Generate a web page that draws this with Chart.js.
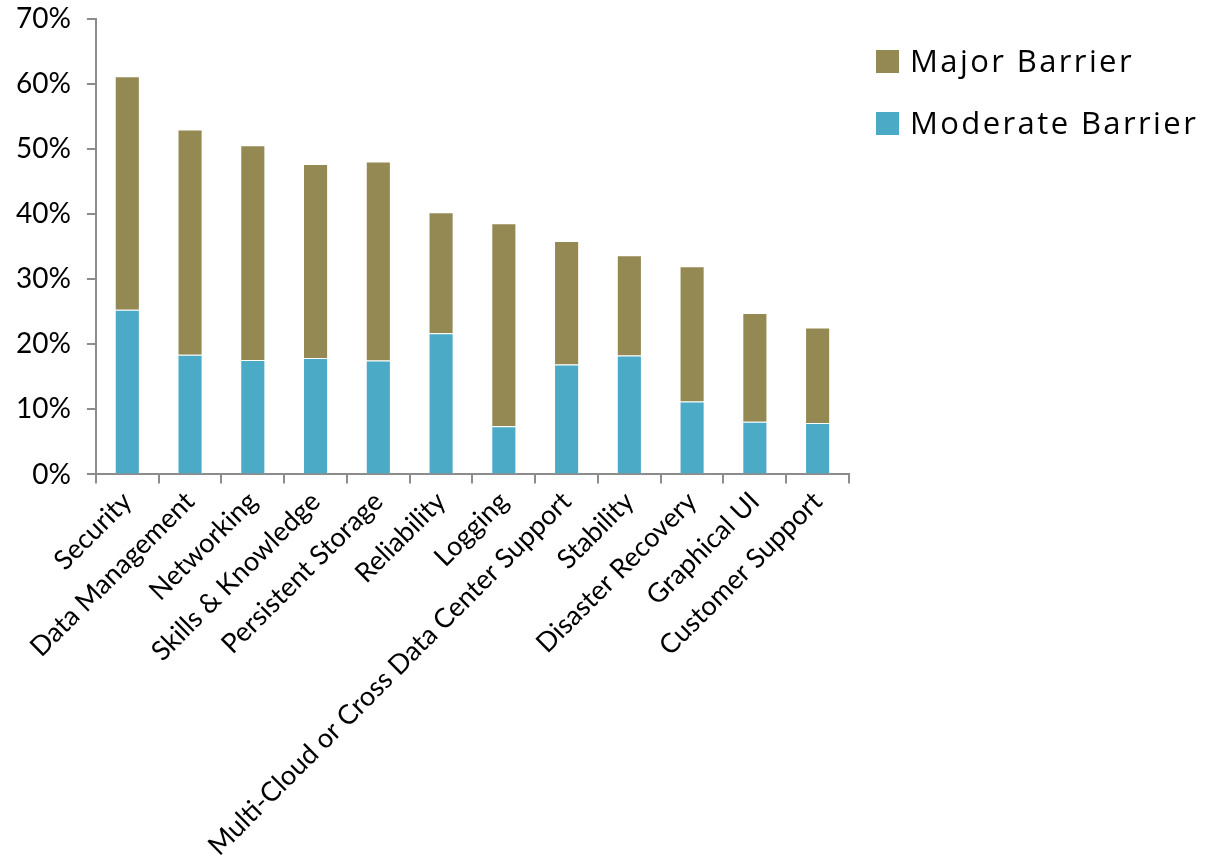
<!DOCTYPE html>
<html>
<head>
<meta charset="utf-8">
<script src="https://cdn.jsdelivr.net/npm/chart.js@4/dist/chart.umd.min.js"></script>
<style>
html,body{margin:0;padding:0;background:#fff;}
#wrap{position:relative;width:1221px;height:864px;}
#legend{position:absolute;left:0;top:0;width:1221px;height:0;}
.lg-box{position:absolute;width:23px;height:23px;}
.lg-text{position:absolute;font-family:"Open Sans",sans-serif;font-size:31px;line-height:31px;letter-spacing:2.4px;color:#000;white-space:nowrap;}
</style>
</head>
<body>
<div id="wrap"><canvas id="c" width="1221" height="864"></canvas><div id="legend"></div></div>
<script>
const categories = ["Security","Data Management","Networking","Skills & Knowledge","Persistent Storage","Reliability","Logging","Multi-Cloud or Cross Data Center Support","Stability","Disaster Recovery","Graphical UI","Customer Support"];
const moderateBarrier = [25.3,18.4,17.6,17.9,17.5,21.7,7.4,16.9,18.3,11.2,8.1,7.9];
const majorBarrier = [35.9,34.6,33.0,29.8,30.6,18.6,31.2,19.0,15.4,20.8,16.7,14.7];
const yTicks = [0,10,20,30,40,50,60,70];

const axisColor = '#8c8c8c';
const chart = new Chart(document.getElementById('c'), {
  type: 'bar',
  data: {
    labels: categories,
    datasets: [
      {label:'Moderate Barrier', data: moderateBarrier, backgroundColor:'#4BAAC5', borderColor:'rgba(255,255,255,0.5)', borderWidth:{top:1,left:1,right:1,bottom:0}, barPercentage:0.4, categoryPercentage:1.0},
      {label:'Major Barrier', data: majorBarrier, backgroundColor:'#948853', borderColor:'rgba(255,255,255,0.5)', borderWidth:{top:1,left:1,right:1,bottom:0}, barPercentage:0.4, categoryPercentage:1.0}
    ]
  },
  options: {
    responsive:false,
    animation:false,
    devicePixelRatio:1,
    layout:{padding:{left:0,top:0,right:372,bottom:0}},
    plugins:{
      tooltip:{enabled:false},
      legend:{display:false}
    },
    scales:{
      x:{
        stacked:true,
        grid:{display:true, drawOnChartArea:false, drawTicks:true, tickLength:9, color:axisColor, offset:true, lineWidth:2},
        border:{display:true, color:axisColor, width:2},
        ticks:{font:{family:'Lato', size:27}, color:'#000', maxRotation:45, minRotation:45, padding:2, autoSkip:false}
      },
      y:{
        stacked:true, min:0, max:70,
        afterBuildTicks: (s)=>{ s.ticks = yTicks.map(v=>({value:v})); },
        afterFit: (s)=>{ s.paddingTop = 19; s.paddingBottom = 16; },
        grid:{display:true, drawOnChartArea:false, drawTicks:true, tickLength:9, color:axisColor, lineWidth:2},
        border:{display:true, color:axisColor, width:2},
        ticks:{font:{family:'Lato', size:28}, color:'#000', padding:16, callback:(v)=>v+'%'}
      }
    }
  }
});

// HTML legend built from the chart's datasets (reverse order: Major first)
const legendEl = document.getElementById('legend');
const items = chart.data.datasets.slice().reverse();
items.forEach((ds, i) => {
  const top = 50 + i * 62;
  const box = document.createElement('span');
  box.className = 'lg-box';
  box.style.left = '876px';
  box.style.top = top + 'px';
  box.style.background = ds.backgroundColor;
  const txt = document.createElement('span');
  txt.className = 'lg-text';
  txt.style.left = '910px';
  txt.style.top = (top - 5) + 'px';
  txt.textContent = ds.label;
  legendEl.appendChild(box);
  legendEl.appendChild(txt);
});
</script>
</body>
</html>
